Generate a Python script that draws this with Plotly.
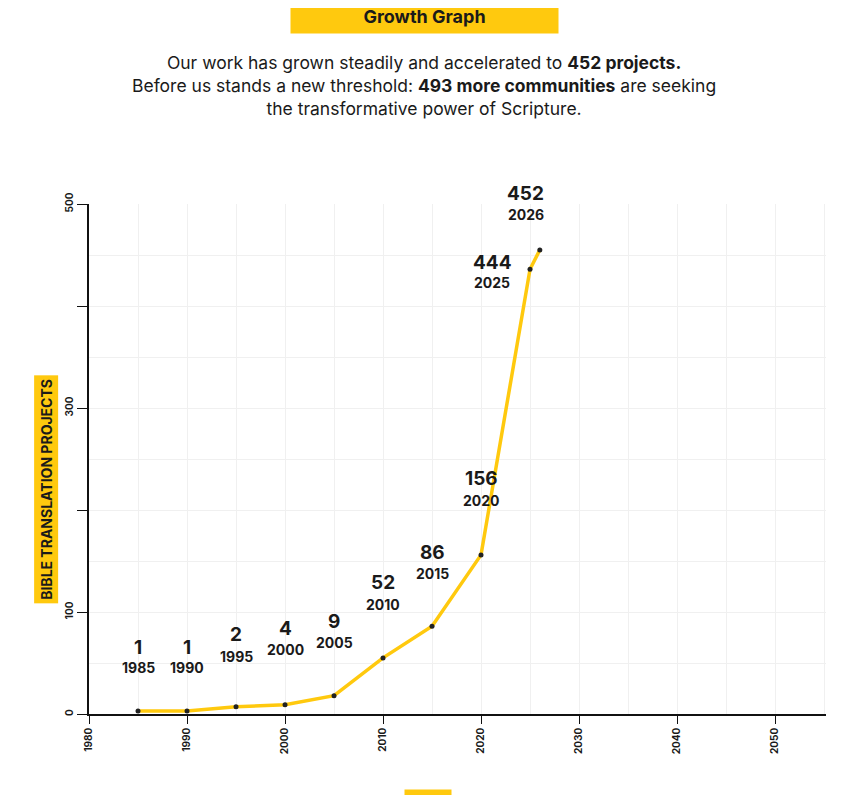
import plotly.graph_objects as go

years = [1985, 1990, 1995, 2000, 2005, 2010, 2015, 2020, 2025, 2026]
values = [3, 3, 7, 9, 18, 55, 86, 156, 436, 455]
labels = ["1", "1", "2", "4", "9", "52", "86", "156", "444", "452"]

num_shift = [63, 63, 72, 76, 74, 75, 74, 76, 7, 56]
year_shift = [43, 43, 50, 55, 53, 53, 53, 54, -13, 35]
x_shift = [0, 0, 0, 0, 0, 0, 0, 0, -38, -14]

F = "Inter"
fig = go.Figure()
fig.add_trace(go.Scatter(x=years, y=values, mode="lines+markers",
    line=dict(color="#FFC90E", width=3.5),
    marker=dict(color="#222", size=5), hoverinfo="skip"))

ann = []
for yr, v, lb, ns, ys, xs in zip(years, values, labels, num_shift, year_shift, x_shift):
    ann.append(dict(x=yr, y=v, text=f"<b>{lb}</b>", showarrow=False, xshift=xs, yshift=ns,
                    font=dict(family=F, size=19, color="#1a1a1a", weight=900)))
    ann.append(dict(x=yr, y=v, text=f"<b>{yr}</b>", showarrow=False, xshift=xs, yshift=ys,
                    font=dict(family=F, size=14, color="#1a1a1a")))

ann.append(dict(xref="paper", yref="paper", x=-0.075, y=0.44, text="<b>BIBLE TRANSLATION PROJECTS</b>",
                textangle=-90, showarrow=False, bgcolor="#FFC90E", borderpad=3,
                font=dict(family=F, size=14, color="#1a1a1a")))
ann.append(dict(xref="paper", yref="paper", x=0.46, y=-0.2, text="<b>YEAR</b>",
                showarrow=False, bgcolor="#FFC90E", borderpad=4,
                font=dict(family=F, size=14, color="#1a1a1a")))
ann.append(dict(xref="paper", yref="paper", x=0.455, y=1.0, yanchor="top", yshift=205,
                text="<b>  Growth Graph  </b>", showarrow=False, bgcolor="#FFC90E", borderpad=6,
                width=255, font=dict(family=F, size=18, color="#1a1a1a")))
ann.append(dict(xref="paper", yref="paper", x=0.455, y=1.0, yanchor="top", yshift=154,
                text="Our work has grown steadily and accelerated to <b>452 projects.</b><br>"
                     "Before us stands a new threshold: <b>493 more communities</b> are seeking<br>"
                     "the transformative power of Scripture.",
                showarrow=False, font=dict(family=F, size=17.5, color="#1a1a1a")))

fig.update_layout(
    width=847, height=795, plot_bgcolor="white", paper_bgcolor="white",
    margin=dict(l=81, r=29, t=196, b=89), showlegend=False, annotations=ann,
    xaxis=dict(range=[1980, 2055.2], tickvals=[1980, 1990, 2000, 2010, 2020, 2030, 2040, 2050],
               tickangle=-90, ticks="outside", ticklen=8, tickcolor="#111",
               tickfont=dict(family=F, size=10, color="#1a1a1a", weight="bold"),
               showline=True, linecolor="#111", linewidth=1.5, showgrid=True, gridcolor="#f0f0f0",
               minor=dict(dtick=5, showgrid=True, gridcolor="#f0f0f0"), zeroline=False),
    yaxis=dict(range=[0, 500], tickvals=[0, 100, 200, 300, 400, 500],
               ticktext=["0", "100", "", "300", "", "500"],
               tickangle=-90, ticks="outside", ticklen=10, tickcolor="#111",
               tickfont=dict(family=F, size=10, color="#1a1a1a", weight="bold"),
               showline=True, linecolor="#111", linewidth=1.5, showgrid=True, gridcolor="#f0f0f0",
               minor=dict(dtick=50, showgrid=True, gridcolor="#f0f0f0"), zeroline=False),
)
fig.write_html("out.html")
